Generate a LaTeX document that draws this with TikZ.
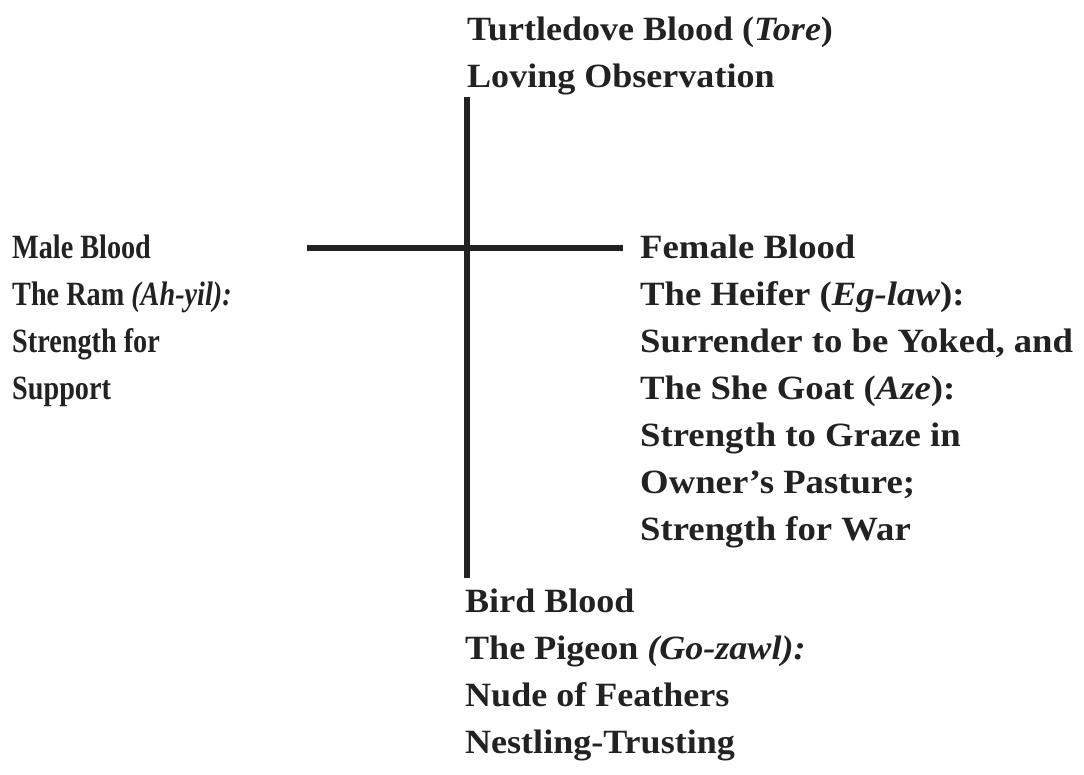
\documentclass[tikz,border=0pt]{standalone}
\usepackage{fontspec}
\setmainfont{Liberation Serif}
\newfontfamily\widefont[FakeStretch=1.06]{Liberation Serif}
\newfontfamily\rightfont[FakeStretch=1.08]{Liberation Serif}
\newfontfamily\narrowfont[FakeStretch=0.83]{Liberation Serif}
\usetikzlibrary{positioning}
\definecolor{myink}{RGB}{34,34,34}
\tikzstyle{bloodtext}=[align=left, anchor=base west, inner sep=0pt, text=myink,
font=\widefont\bfseries\fontsize{34}{47}\selectfont]
\tikzstyle{bar}=[line width=6pt, draw=myink]

\begin{document}
\begin{tikzpicture}[x=1pt,y=1pt]
\useasboundingbox (0,0) rectangle (1084,-774);
\coordinate (top) at (467, -97);
\coordinate (bot) at (467, -578);
\coordinate (lft) at (307, -248);
\coordinate (rgt) at (623, -248);
\draw[bar] (top) -- (bot);
\draw[bar] (lft) -- (rgt);
% base anchor sits on the last line
\node [bloodtext] (turtle) at (467, -87) {Turtledove Blood (\textit{Tore})\\Loving Observation};
\node [bloodtext, font=\narrowfont\bfseries\fontsize{34}{47}\selectfont] (male) at (12, -399) {Male Blood\\The Ram \textit{(Ah-yil):}\\Strength for\\Support};
\node [bloodtext, font=\rightfont\bfseries\fontsize{34}{47}\selectfont] (female) at (640, -540) {Female Blood\\The Heifer (\textit{Eg-law}):\\Surrender to be Yoked, and\\The She Goat (\textit{Aze}):\\Strength to Graze in\\Owner’s Pasture;\\Strength for War};
\node [bloodtext] (bird) at (465, -753) {Bird Blood\\The Pigeon \textit{(Go-zawl):}\\Nude of Feathers\\Nestling-Trusting};
\end{tikzpicture}
\end{document}
